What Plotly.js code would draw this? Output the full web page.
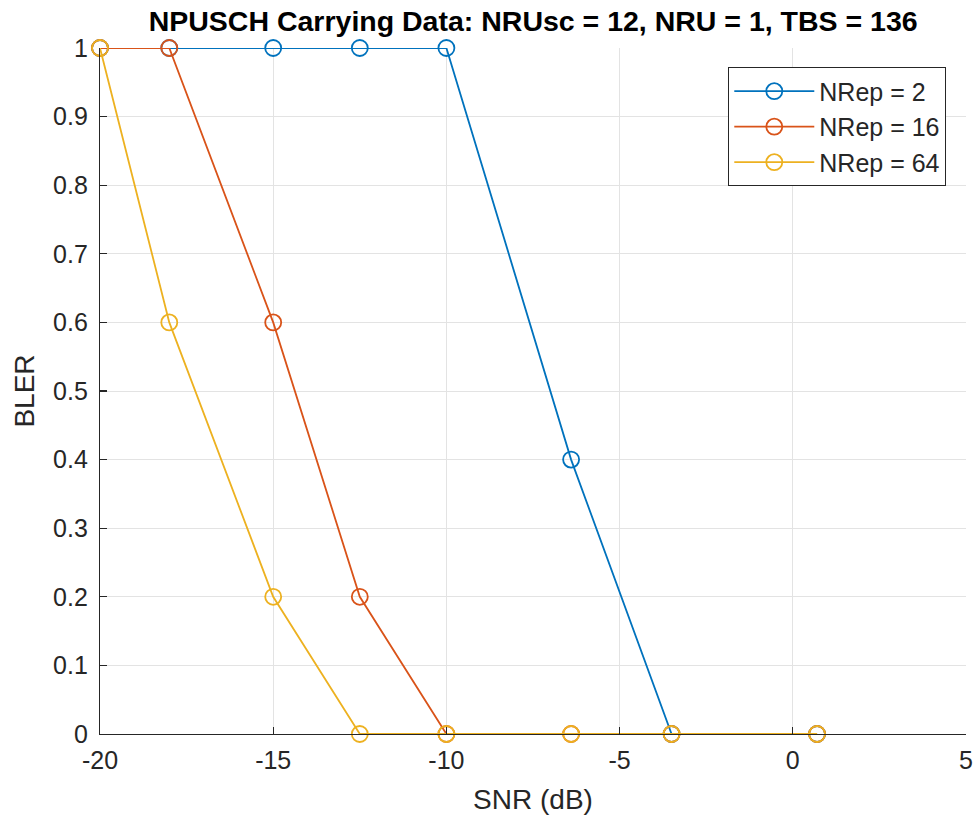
<!DOCTYPE html>
<html>
<head>
<meta charset="utf-8">
<script src="https://cdn.plot.ly/plotly-3.0.1.min.js"></script>
<style>html,body{margin:0;padding:0;background:#fff;}#chart{width:979px;height:821px;}</style>
</head>
<body>
<div id="chart"></div>
<script>
const snrDb = [-20, -18, -15, -12.5, -10, -6.4, -3.5, 0.7];
const blerRep2 = [1, 1, 1, 1, 1, 0.4, 0, 0];
const blerRep16 = [1, 1, 0.6, 0.2, 0, 0, 0, 0];
const blerRep64 = [1, 0.6, 0.2, 0, 0, 0, 0, 0];
const seriesNames = ['NRep = 2', 'NRep = 16', 'NRep = 64'];
const seriesColors = ['#0072BD', '#D95319', '#EDB120'];
const xTicks = [-20, -15, -10, -5, 0, 5];
const yTicks = [0, 0.1, 0.2, 0.3, 0.4, 0.5, 0.6, 0.7, 0.8, 0.9, 1];

const ys = [blerRep2, blerRep16, blerRep64];
const traces = ys.map((y, i) => ({
  x: snrDb, y: y, name: seriesNames[i], type: 'scatter', mode: 'lines+markers',
  line: {color: seriesColors[i], width: 1.8},
  marker: {symbol: 'circle-open', size: 16, color: seriesColors[i], line: {width: 1.8, color: seriesColors[i]}},
  cliponaxis: false
}));

const FF = 'Liberation Sans, Arial, sans-serif';
const layout = {
  width: 979, height: 821,
  margin: {l: 100, r: 13, t: 48, b: 87},
  paper_bgcolor: '#fff', plot_bgcolor: '#fff',
  font: {family: FF, size: 25, color: '#262626'},
  title: {text: 'NPUSCH Carrying Data: NRUsc = 12, NRU = 1, TBS = 136',
    font: {family: FF, size: 28.5, color: '#000', weight: 'bold'},
    x: 0.5446, xanchor: 'center', y: 0.974, yanchor: 'middle'},
  xaxis: {range: [-20, 5], tickvals: xTicks, ticktext: xTicks.map(String),
    showgrid: true, gridcolor: '#e3e3e3', gridwidth: 1, zeroline: false,
    showline: true, linecolor: '#262626', linewidth: 1.2,
    ticks: 'inside', ticklen: 7, tickcolor: '#262626', tickwidth: 1.2,
    ticklabelstandoff: 4,
    tickfont: {family: FF, size: 25, color: '#262626'},
    title: {text: 'SNR (dB)', font: {family: FF, size: 28, color: '#262626'}, standoff: 16}},
  yaxis: {range: [0, 1], tickvals: yTicks, ticktext: yTicks.map(String),
    showgrid: true, gridcolor: '#e3e3e3', gridwidth: 1, zeroline: false,
    showline: true, linecolor: '#262626', linewidth: 1.2,
    ticks: 'inside', ticklen: 7, tickcolor: '#262626', tickwidth: 1.2,
    ticklabelstandoff: 6,
    tickfont: {family: FF, size: 25, color: '#262626'},
    title: {text: 'BLER', font: {family: FF, size: 28, color: '#262626'}, standoff: 10}},
  legend: {x: 0.977, xanchor: 'right', y: 0.972, yanchor: 'top',
    bgcolor: '#fff', bordercolor: '#262626', borderwidth: 1.2,
    font: {family: FF, size: 25, color: '#262626'}, tracegroupgap: 0, itemwidth: 80},
  showlegend: true
};
Plotly.newPlot('chart', traces, layout, {displayModeBar: false, staticPlot: true});
</script>
</body>
</html>
